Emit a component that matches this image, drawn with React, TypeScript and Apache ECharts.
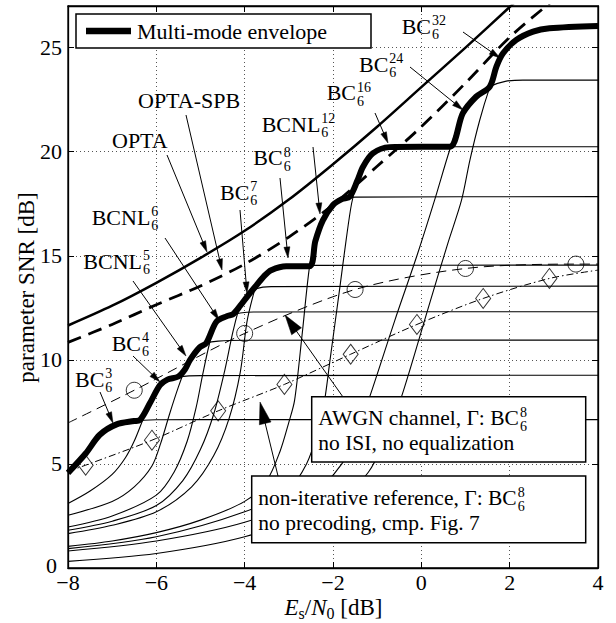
import React, { useEffect, useRef } from 'react';
import * as echarts from 'echarts';

// ---------- data ----------
const xTicks = [-8, -6, -4, -2, 0, 2, 4];
const yTicks = [0, 5, 10, 15, 20, 25];

const opta = [[-8, 11.65], [-7, 12.6], [-6, 13.7], [-5, 14.9], [-4, 16.2], [-3, 17.7], [-2, 19.4], [-1, 21.2], [0, 23.1], [1, 25.0], [2, 26.95], [2.2, 27.35]];
const optaSpb = [[-8, 10.84], [-7, 11.7], [-6, 12.65], [-5, 13.55], [-4, 14.6], [-3, 15.9], [-2, 17.45], [-1, 19.3], [0, 21.2], [1, 23.3], [2, 25.5], [3, 27.3]];

const envelope = [[-8, 4.57], [-7.6, 5.5], [-7.28, 6.4], [-6.9, 6.9], [-6.5, 7.06], [-6.38, 7.1], [-6.15, 7.9], [-5.92, 8.78], [-5.75, 9.05], [-5.5, 9.2], [-5.35, 9.55], [-5.24, 9.99], [-5.02, 10.6], [-4.87, 10.8], [-4.64, 11.83], [-4.4, 12.1], [-4.26, 12.2], [-4.1, 12.6], [-3.92, 13.1], [-3.73, 13.59], [-3.55, 14.05], [-3.4, 14.31], [-3.06, 14.5], [-2.53, 14.5], [-2.4, 15.7], [-2.23, 16.7], [-2.0, 17.44], [-1.8, 17.72], [-1.62, 17.85], [-1.45, 18.6], [-1.32, 19.28], [-1.1, 19.92], [-0.72, 20.22], [0.0, 20.24], [0.64, 20.24], [0.94, 21.85], [1.24, 22.64], [1.55, 23.13], [1.7, 24.09], [1.85, 24.73], [2.15, 25.37], [2.53, 25.77], [2.9, 25.93], [4, 26.04]];

const bc3 = [[-8, 4.6], [-7.6, 5.5], [-7.28, 6.35], [-6.9, 6.88], [-6.5, 7.06], [-6.0, 7.12], [-5, 7.13], [4, 7.13]];
const bc4 = [[-8, 3.1], [-7.5, 3.7], [-7, 4.5], [-6.7, 5.3], [-6.5, 6.1], [-6.3, 7.15], [-6.15, 7.9], [-5.92, 8.78], [-5.75, 9.05], [-5.5, 9.18], [-5, 9.24], [4, 9.26]];
const bcnl5 = [[-8, 2.53], [-7, 3.2], [-6.5, 3.9], [-6.1, 4.9], [-5.9, 6.0], [-5.7, 7.4], [-5.5, 8.7], [-5.35, 9.55], [-5.24, 9.99], [-5.02, 10.6], [-4.87, 10.8], [-4.6, 10.9], [-4, 10.94], [4, 10.95]];
const bcnl6 = [[-8, 1.97], [-7, 2.5], [-6, 3.5], [-5.6, 4.6], [-5.3, 6.1], [-5.1, 7.7], [-4.95, 9.3], [-4.8, 10.75], [-4.64, 11.83], [-4.4, 12.1], [-4.1, 12.25], [-3.8, 12.3], [4, 12.31]];
const bc7 = [[-8, 1.81], [-7, 2.25], [-6, 3.0], [-5.4, 4.2], [-5.0, 5.7], [-4.7, 7.4], [-4.45, 9.5], [-4.26, 11.4], [-4.1, 12.6], [-3.92, 13.1], [-3.73, 13.42], [-3.4, 13.52], [4, 13.54]];
const bc8 = [[-8, 1.65], [-7, 2.05], [-6, 2.7], [-5.2, 3.9], [-4.7, 5.4], [-4.35, 7.2], [-4.1, 9.4], [-3.95, 11.8], [-3.82, 13.0], [-3.73, 13.59], [-3.55, 14.05], [-3.4, 14.31], [-3.06, 14.5], [-2.5, 14.54], [4, 14.55]];
const bcnl12 = [[-8, 1.04], [-7, 1.3], [-6, 1.7], [-5, 2.3], [-4, 3.2], [-3.5, 4.2], [-3.2, 5.6], [-3.0, 7.0], [-2.87, 8.05], [-2.7, 11.2], [-2.53, 14.5], [-2.4, 15.7], [-2.23, 16.7], [-2.0, 17.44], [-1.8, 17.72], [-1.5, 17.82], [4, 17.84]];
const bc16 = [[-8, 0.93], [-6, 1.5], [-4, 2.7], [-3, 3.8], [-2.6, 5.0], [-2.35, 6.5], [-2.19, 8.06], [-2.07, 9.95], [-1.85, 13.4], [-1.7, 15.8], [-1.58, 17.5], [-1.45, 18.6], [-1.32, 19.28], [-1.1, 19.92], [-0.72, 20.2], [0, 20.24], [4, 20.24]];
const bc24 = [[-8, 0.82], [-6, 1.3], [-4, 2.2], [-2.5, 3.5], [-1.8, 5.0], [-1.45, 6.6], [-1.17, 8.22], [-0.6, 11.9], [-0.1, 15.0], [0.3, 17.67], [0.64, 20.07], [0.94, 21.85], [1.24, 22.64], [1.55, 23.13], [1.9, 23.38], [2.3, 23.44], [4, 23.44]];
const bc32 = [[-8, 0.32], [-6, 0.7], [-4, 1.5], [-2, 3.0], [-1.2, 4.6], [-0.8, 6.3], [-0.45, 8.22], [0.2, 12.8], [0.6, 15.6], [0.91, 17.67], [1.1, 19.6], [1.32, 21.5], [1.55, 23.1], [1.78, 24.4], [1.85, 24.73], [2.15, 25.37], [2.53, 25.77], [2.9, 25.93], [4, 26.04]];

// AWGN reference (dashed, circles) and non-iterative reference (dash-dot, diamonds)
const awgnLine = [[-8, 6.97], [-6.5, 8.54], [-4, 11.27], [-1.5, 13.38], [1, 14.39], [3.5, 14.6], [4, 14.6]];
const awgnMarks = [[-6.5, 8.54], [-4, 11.27], [-1.5, 13.38], [1, 14.39], [3.5, 14.6]];
const nonIterLine = [[-8, 4.65], [-7.6, 4.94], [-6.1, 6.14], [-4.6, 7.55], [-3.1, 8.82], [-1.6, 10.27], [-0.1, 11.7], [1.4, 12.95], [2.9, 13.91], [4, 14.31]];
const nonIterMarks = [[-7.6, 4.94], [-6.1, 6.14], [-4.6, 7.55], [-3.1, 8.82], [-1.6, 10.27], [-0.1, 11.7], [1.4, 12.95], [2.9, 13.91]];

// ---------- layout ----------
const W = 616, H = 623;
const FONT = '"Liberation Serif", "DejaVu Serif", serif';
const G = { left: 68, top: 6, right: 18, bottom: 55 };

let _ctx: CanvasRenderingContext2D | null = null;
function tw(t: string, size: number, italic = false) {
  if (!_ctx) _ctx = document.createElement('canvas').getContext('2d');
  if (!_ctx) return t.length * size * 0.5;
  _ctx.font = `${italic ? 'italic ' : ''}${size}px ${FONT}`;
  return _ctx.measureText(t).width;
}

function txt(x: number, y: number, text: string, size: number, opts: any = {}) {
  return {
    type: 'text', x, y, z: 110, rotation: opts.rotation || 0,
    style: {
      text, fill: '#000', fontSize: size, fontFamily: FONT, fontStyle: opts.italic ? 'italic' : 'normal',
      align: opts.align || 'left', verticalAlign: 'middle', textAlign: opts.align || 'left', textVerticalAlign: 'middle',
    },
  };
}

function subsup(x: number, y: number, main: string, sub: string, sup: string, size = 22) {
  const w = tw(main, size);
  return [txt(x, y, main, size), txt(x + w + 1, y - 5.5, sup, 14), txt(x + w + 1, y + 8.5, sub, 14)];
}

function arrow(x1: number, y1: number, x2: number, y2: number, L = 11, Wd = 6, lw = 1) {
  const dx = x2 - x1, dy = y2 - y1, d = Math.hypot(dx, dy), ux = dx / d, uy = dy / d;
  const bx = x2 - ux * L, by = y2 - uy * L;
  return [
    { type: 'line', z: 105, shape: { x1, y1, x2: bx + ux, y2: by + uy }, style: { stroke: '#000', lineWidth: lw } },
    { type: 'polygon', z: 105, shape: { points: [[x2, y2], [bx - uy * Wd / 2, by + ux * Wd / 2], [bx + uy * Wd / 2, by - ux * Wd / 2]] }, style: { fill: '#000', stroke: '#000', lineWidth: 0.5 } },
  ];
}

const labelFont = { color: '#000', fontFamily: FONT, fontSize: 22, lineHeight: 14 };
const fmtX = (v: number) => (xTicks.includes(v) ? (v < 0 ? '\u2212' + -v : String(v)) : '');
const fmtY = (v: number) => (yTicks.includes(v) ? (v === 0 ? '{z|0}' : String(v)) : '');

function curve(data: number[][], width = 1.1, type: any = 'solid', z = 2) {
  return { type: 'line', data, showSymbol: false, symbol: 'none', smooth: 0.3, silent: true, z, clip: true, lineStyle: { color: '#000', width, type, cap: 'butt', join: 'round' } };
}

export default function App() {
  const ref = useRef<HTMLDivElement>(null);
  useEffect(() => {
    document.body.style.margin = '0';
    const chart = echarts.init(ref.current!, null, { renderer: 'svg' });

    const graphics: any[] = [];
    // legend
    graphics.push({ type: 'rect', z: 100, shape: { x: 76, y: 14, width: 295, height: 34 }, style: { fill: '#fff', stroke: '#000', lineWidth: 1.5 } });
    graphics.push({ type: 'line', z: 105, shape: { x1: 86, y1: 31, x2: 131, y2: 31 }, style: { stroke: '#000', lineWidth: 6.5 } });
    graphics.push(txt(137, 31, 'Multi-mode envelope', 22));

    // boxes
    graphics.push({ type: 'rect', z: 100, shape: { x: 311.7, y: 396.7, width: 274, height: 65.3 }, style: { fill: '#fff', stroke: '#000', lineWidth: 1.5 } });
    graphics.push({ type: 'rect', z: 100, shape: { x: 251.7, y: 476, width: 334, height: 66.7 }, style: { fill: '#fff', stroke: '#000', lineWidth: 1.5 } });
    graphics.push(...subsup(318.3, 418.3, 'AWGN channel, \u0393: BC', '6', '8', 21.5));
    graphics.push(txt(318.3, 442.7, 'no ISI, no equalization', 21.5));
    graphics.push(...subsup(258.3, 498.3, 'non-iterative reference, \u0393: BC', '6', '8', 21.5));
    graphics.push(txt(258.3, 523.3, 'no precoding, cmp. Fig. 7', 21.5));
    graphics.push(...arrow(343, 397, 285, 315, 20, 12, 1));
    graphics.push(...arrow(278, 476, 260, 402, 22, 12, 1));

    // annotations
    graphics.push(txt(138, 100, 'OPTA-SPB', 22));
    graphics.push(...arrow(186, 115, 222, 270));
    graphics.push(txt(112, 140, 'OPTA', 22));
    graphics.push(...arrow(167, 155, 207, 252));
    graphics.push(...subsup(91.7, 217, 'BCNL', '6', '6'));
    graphics.push(...arrow(165, 238, 219, 320));
    graphics.push(...subsup(83.3, 261, 'BCNL', '6', '5'));
    graphics.push(...arrow(133, 281, 186, 356));
    graphics.push(...subsup(111.7, 343, 'BC', '6', '4'));
    graphics.push(...arrow(133, 356, 160, 382));
    graphics.push(...subsup(75, 379, 'BC', '6', '3'));
    graphics.push(...arrow(100, 392, 113, 423));
    graphics.push(...subsup(220, 192, 'BC', '6', '7'));
    graphics.push(...arrow(240, 210, 247, 293));
    graphics.push(...subsup(253.3, 157.5, 'BC', '6', '8'));
    graphics.push(...arrow(280, 178, 288, 258));
    graphics.push(...subsup(261.7, 124, 'BCNL', '6', '12'));
    graphics.push(...arrow(313, 147, 320, 214));
    graphics.push(...subsup(326.7, 92.5, 'BC', '6', '16'));
    graphics.push(...arrow(375, 113, 388, 143));
    graphics.push(...subsup(359, 64, 'BC', '6', '24'));
    graphics.push(...arrow(410, 67, 463, 110));
    graphics.push(...subsup(401.7, 26, 'BC', '6', '32'));
    graphics.push(...arrow(463, 32, 500, 58));

    // axis titles
    graphics.push(txt(26.5, 287.5, 'parameter SNR [dB]', 23, { align: 'center', rotation: Math.PI / 2 }));
    const segs = [
      { t: 'E', s: 23, it: true, dy: 0 }, { t: 's', s: 16, it: false, dy: 6 }, { t: '/', s: 23, it: false, dy: 0 },
      { t: 'N', s: 23, it: true, dy: 0 }, { t: '0', s: 16, it: false, dy: 6 }, { t: ' [dB]', s: 23, it: false, dy: 0 },
    ];
    const total = segs.reduce((a, g) => a + tw(g.t, g.s, g.it), 0);
    let cx = 333.5 - total / 2;
    for (const g of segs) {
      graphics.push(txt(cx, 607 + g.dy, g.t, g.s, { italic: g.it }));
      cx += tw(g.t, g.s, g.it);
    }

    const axisLine = { show: true, onZero: false, lineStyle: { color: '#000', width: 1.3 } };
    const tick = { show: true, inside: true, length: 6, lineStyle: { color: '#000', width: 1 } };
    const grid = { show: true, lineStyle: { color: '#555', width: 1, type: [1, 3] } };

    chart.setOption({
      animation: false,
      backgroundColor: '#fff',
      grid: { ...G, show: true, borderColor: '#000', borderWidth: 1.3, backgroundColor: 'transparent' },
      xAxis: [
        { type: 'value', min: -8, max: 4, interval: 2, position: 'bottom', axisLine, axisTick: tick, splitLine: grid,
          axisLabel: { ...labelFont, margin: 7, formatter: fmtX } },
        { type: 'value', min: -8, max: 4, interval: 2, position: 'top', axisLine, axisTick: tick, splitLine: { show: false }, axisLabel: { show: false } },
      ],
      yAxis: [
        { type: 'value', min: 0, max: 27, interval: 5, position: 'left', axisLine, axisTick: tick, splitLine: grid,
          axisLabel: { ...labelFont, margin: 6, formatter: fmtY,
            rich: { z: { fontFamily: FONT, fontSize: 22, color: '#000', lineHeight: 14, padding: [0, 5, 6, 0] } } } },
        { type: 'value', min: 0, max: 27, interval: 5, position: 'right', axisLine, axisTick: tick, splitLine: { show: false }, axisLabel: { show: false } },
      ],
      series: [
        curve(bc3), curve(bc4), curve(bcnl5), curve(bcnl6), curve(bc7), curve(bc8),
        curve(bcnl12), curve(bc16), curve(bc24), curve(bc32),
        curve(awgnLine, 1, [10, 6], 3),
        curve(nonIterLine, 1, [7, 3, 1.5, 3], 3),
        { type: 'scatter', data: awgnMarks, symbol: 'circle', symbolSize: 16, silent: true, z: 4,
          itemStyle: { color: 'rgba(0,0,0,0)', borderColor: '#000', borderWidth: 1 } },
        { type: 'scatter', data: nonIterMarks, symbol: 'diamond', symbolSize: [15, 20], silent: true, z: 4,
          itemStyle: { color: 'rgba(0,0,0,0)', borderColor: '#000', borderWidth: 1 } },
        curve(optaSpb, 2.8, [14, 8], 5),
        curve(opta, 2.5, 'solid', 5),
        curve(envelope, 6, 'solid', 6),
      ],
      graphic: { elements: graphics },
    });
    return () => chart.dispose();
  }, []);
  return <div ref={ref} style={{ width: W, height: H }} />;
}
